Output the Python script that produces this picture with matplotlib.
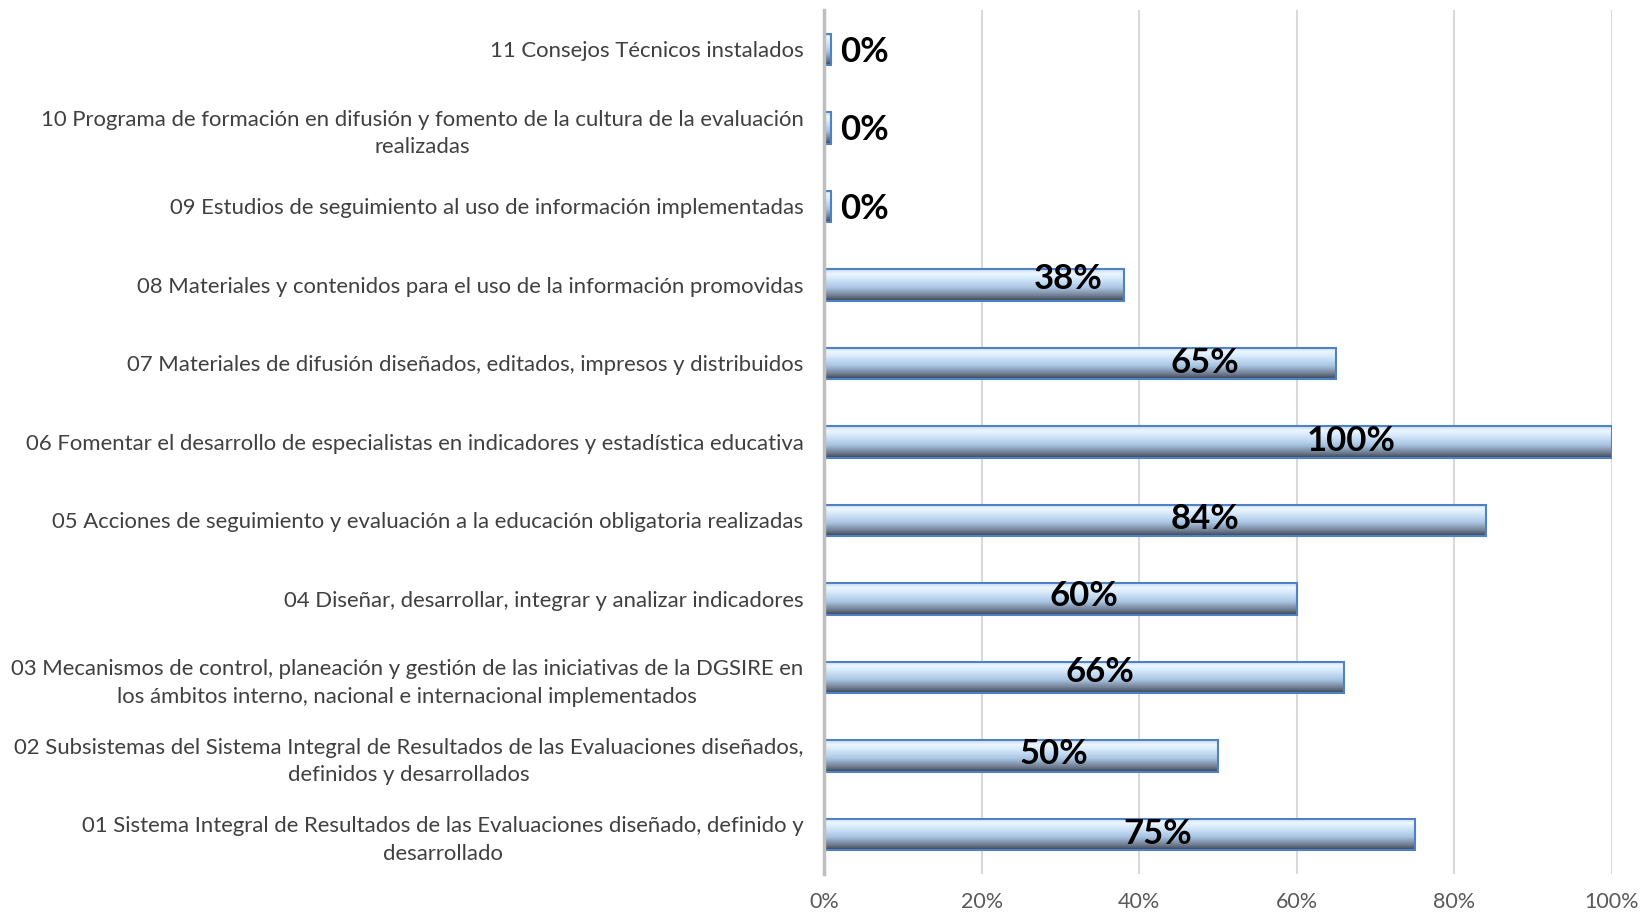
import numpy as np
import matplotlib.pyplot as plt
from matplotlib.colors import LinearSegmentedColormap

# datos (de abajo hacia arriba)
categorias = [
    "01 Sistema Integral de Resultados de las Evaluaciones diseñado, definido y\ndesarrollado",
    "02 Subsistemas del Sistema Integral de Resultados de las Evaluaciones diseñados,\ndefinidos y desarrollados",
    "03 Mecanismos de control, planeación y gestión de las iniciativas de la DGSIRE en\nlos ámbitos interno, nacional e internacional implementados",
    "04 Diseñar, desarrollar, integrar y analizar indicadores",
    "05 Acciones de seguimiento y evaluación a la educación obligatoria realizadas",
    "06 Fomentar el desarrollo de especialistas en indicadores y estadística educativa",
    "07 Materiales de difusión diseñados, editados, impresos y distribuidos",
    "08 Materiales y contenidos para el uso de la información promovidas",
    "09 Estudios de seguimiento al uso de información implementadas",
    "10 Programa de formación en difusión y fomento de la cultura de la evaluación\nrealizadas",
    "11 Consejos Técnicos instalados",
]
avance = [0.75, 0.50, 0.66, 0.60, 0.84, 1.00, 0.65, 0.38, 0.0, 0.0, 0.0]
ticks_x = [0, 0.2, 0.4, 0.6, 0.8, 1.0]
ticks_lbl = ["0%", "20%", "40%", "60%", "80%", "100%"]

# posicion de las etiquetas (movidas a mano en el original)
pos_etq = [0.423, 0.291, 0.350, 0.330, 0.483, 0.669, 0.483, 0.310, None, None, None]
dy_etq = [0, 0.03, 0.07, 0.04, 0.02, 0.01, 0, 0.08, -0.04, -0.03, -0.04]

plt.rcParams['font.family'] = ['Lato', 'DejaVu Sans']

fig = plt.figure(figsize=(16.42, 9.13), dpi=100)
ax = fig.add_axes([0.502, 0.043, 0.4797, 0.946])

grad = LinearSegmentedColormap.from_list("g", [
    (0.0, "#3a4452"), (0.15, "#6d7a8c"), (0.42, "#aac6e4"),
    (0.72, "#d8eafc"), (0.86, "#ecf6ff"), (1.0, "#c8ddf3")])
img = np.linspace(0, 1, 100).reshape(-1, 1)

alto = 0.4
ancho_min = 0.008
y = np.arange(len(categorias))
for i, v in enumerate(avance):
    w = max(v, ancho_min)
    b = ax.barh(y[i], w, height=alto, color="none", edgecolor="#4f81c7",
                linewidth=1.5, zorder=3)[0]
    im = ax.imshow(img, cmap=grad, origin="lower", aspect="auto",
                   extent=[0, w, y[i] - alto / 2, y[i] + alto / 2], zorder=2)
    im.set_clip_path(b)
    txt = f"{v:.0%}"
    if pos_etq[i] is None:
        ax.text(w + 0.012, y[i] + dy_etq[i], txt, ha="left", va="center",
                fontsize=25, fontweight="bold", color="black", zorder=4)
    else:
        ax.text(pos_etq[i], y[i] + dy_etq[i], txt, ha="center", va="center",
                fontsize=25, fontweight="bold", color="black", zorder=4)

ax.set_xlim(0, 1.0)
ax.set_ylim(-0.5, len(categorias) - 0.5)
ax.set_xticks(ticks_x)
ax.set_xticklabels(ticks_lbl, fontsize=15.5, color="#595959")
ax.set_yticks(y)
ax.set_yticklabels(categorias, fontsize=15.9, color="#404040",
                   multialignment="center", linespacing=1.45)
ax.tick_params(axis="both", length=0)
ax.tick_params(axis="y", pad=15)
ax.tick_params(axis="x", pad=13)
ax.grid(axis="x", color="#d9d9d9", linewidth=1.5, zorder=0)
ax.set_axisbelow(True)
for s in ["top", "right", "bottom"]:
    ax.spines[s].set_visible(False)
ax.spines["left"].set_color("#bfbfbf")
ax.spines["left"].set_linewidth(2.5)
ax.spines["left"].set_zorder(5)

plt.savefig("out.png", dpi=100)
plt.close()
